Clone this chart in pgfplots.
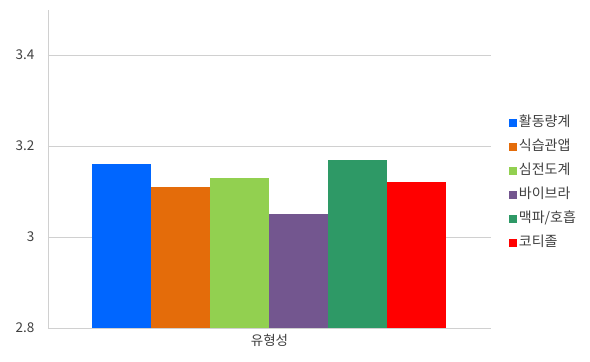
\documentclass[border=0pt]{standalone}
\usepackage{fontspec}
\setmainfont{Noto Sans CJK KR}
\usepackage{pgfplots}
\pgfplotsset{compat=1.18}
\definecolor{cBlue}{HTML}{0066FF}
\definecolor{cOrange}{HTML}{E46C0A}
\definecolor{cGreen}{HTML}{92D050}
\definecolor{cPurple}{HTML}{73568F}
\definecolor{cTeal}{HTML}{2E9966}
\definecolor{cRed}{HTML}{FF0000}
\definecolor{cGrid}{HTML}{D0D0D0}
\definecolor{cText}{HTML}{404040}
\begin{document}
\begin{tikzpicture}[x=1pt,y=1pt]
\useasboundingbox (0,0) rectangle (590,362);
\begin{axis}[
  at={(48pt,34pt)}, anchor=south west,
  scale only axis, width=443pt, height=318.5pt,
  ybar=0pt, bar width=59pt,
  xmin=-0.5, xmax=0.5,
  ymin=2.8, ymax=3.5,
  ytick={2.8,3,3.2,3.4},
  yticklabels={2.8,3,3.2,3.4},
  xtick={0}, xticklabels={유형성},
  major tick length=0pt,
  ymajorgrids, grid style={cGrid, line width=0.8pt},
  axis x line*=bottom, axis y line*=left,
  axis line style={cGrid, line width=0.8pt, -},
  ticklabel style={font=\fontsize{13.5}{15}\selectfont, text=cText},
  yticklabel style={xshift=-10pt},
  xticklabel style={yshift=-3pt},
  legend style={at={(1.04,0.455)}, anchor=west, draw=none, fill=none,
    font=\fontsize{14}{16}\selectfont, text=cText,
    nodes={text height=10pt, text depth=3pt},
    row sep=7pt, inner sep=0pt},
  legend cell align=left,
  legend image code/.code={\fill[#1] (0pt,-4pt) rectangle (8pt,4pt);},
  every axis plot/.append style={draw=none},
]
\addplot[fill=cBlue] coordinates {(0,3.16)};
\addplot[fill=cOrange] coordinates {(0,3.11)};
\addplot[fill=cGreen] coordinates {(0,3.13)};
\addplot[fill=cPurple] coordinates {(0,3.05)};
\addplot[fill=cTeal] coordinates {(0,3.17)};
\addplot[fill=cRed] coordinates {(0,3.12)};
\legend{활동량계,식습관앱,심전도계,바이브라,맥파/호흡,코티졸}
\end{axis}
\end{tikzpicture}
\end{document}
